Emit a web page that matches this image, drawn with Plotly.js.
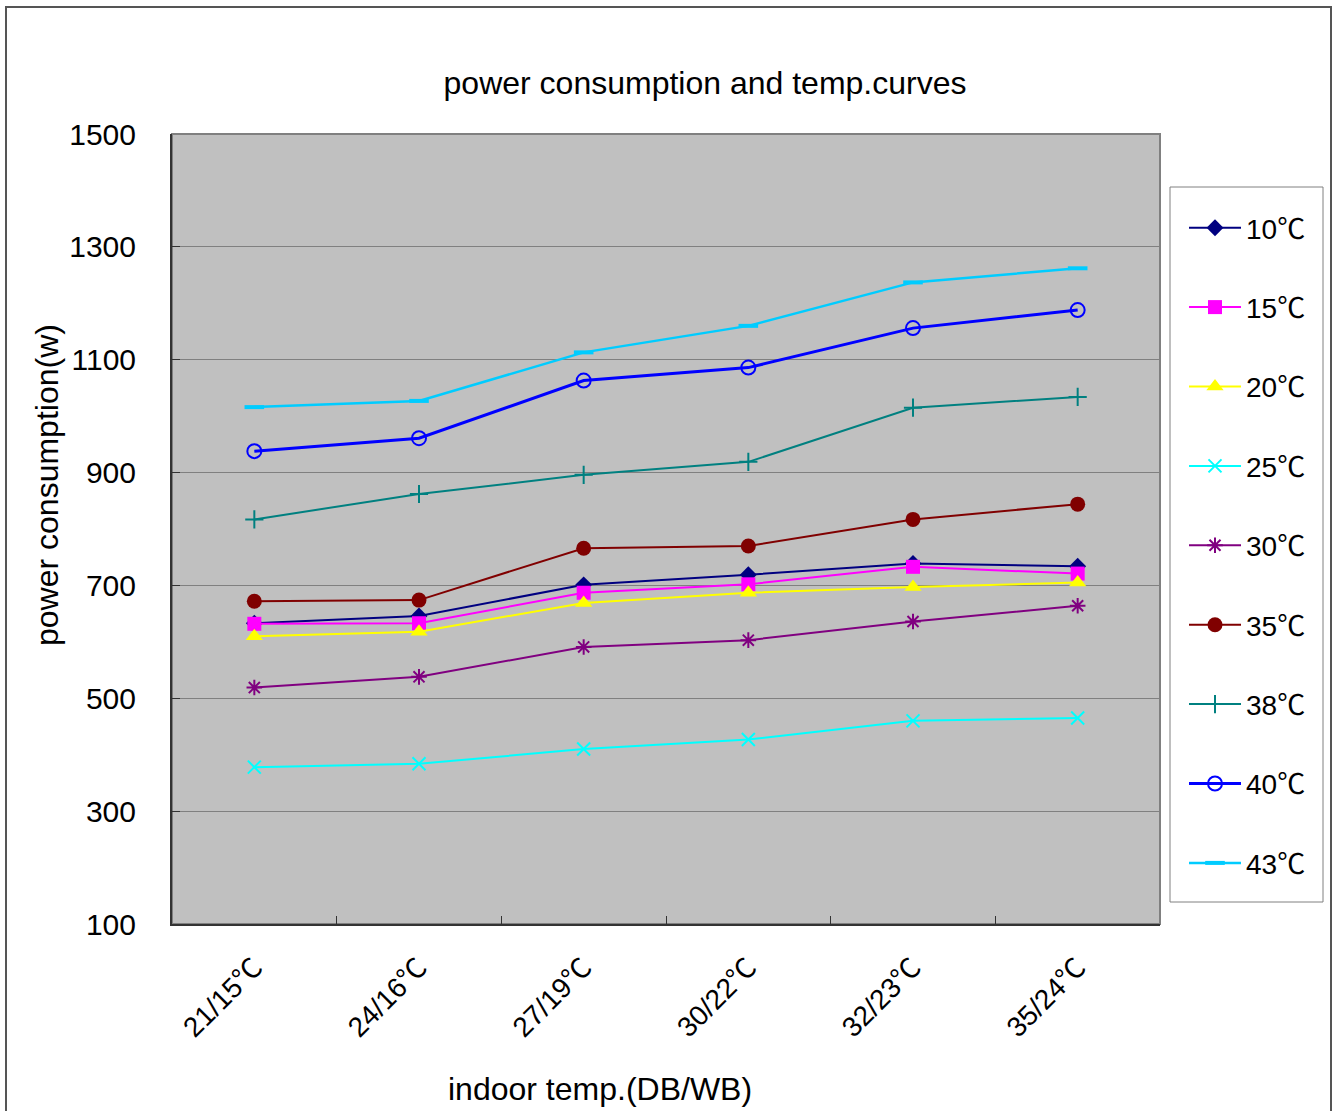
<!DOCTYPE html>
<html>
<head>
<meta charset="utf-8">
<script src="https://cdn.plot.ly/plotly-3.0.1.min.js"></script>
<style>html,body{margin:0;padding:0;background:#fff;}#chart{width:1335px;height:1111px;}</style>
</head>
<body>
<div id="chart"></div>
<script>
// Categories (indoor temp DB/WB)
const categories = ["21/15℃", "24/16℃", "27/19℃", "30/22℃", "32/23℃", "35/24℃"];
// Series names (outdoor temp)
const seriesNames = ["10℃", "15℃", "20℃", "25℃", "30℃", "35℃", "38℃", "40℃", "43℃"];
// Power consumption values (w)
const s10 = [633, 646, 701, 719, 739, 734];
const s15 = [632, 633, 687, 702, 733, 721];
const s20 = [610, 618, 669, 687, 697, 705];
const s25 = [378, 384, 410, 427, 460, 465];
const s30 = [519, 538, 591, 603, 636, 664];
const s35 = [672, 674, 766, 770, 817, 844];
const s38 = [817, 862, 896, 919, 1015, 1034];
const s40 = [938, 961, 1063, 1086, 1156, 1188];
const s43 = [1016, 1027, 1113, 1160, 1237, 1262];
const yTicks = [100, 300, 500, 700, 900, 1100, 1300, 1500];

const seriesValues = [s10, s15, s20, s25, s30, s35, s38, s40, s43];
const styles = [
  {color: "#000080", symbol: "diamond", size: 13, lw: 2},
  {color: "#FF00FF", symbol: "square", size: 14, lw: 2},
  {color: "#FFFF00", symbol: "triangle-up", size: 15, lw: 2},
  {color: "#00FFFF", symbol: "x-thin-open", size: 13, lw: 2, mlw: 2},
  {color: "#800080", symbol: "asterisk-open", size: 13, lw: 2, mlw: 2},
  {color: "#800000", symbol: "circle", size: 15, lw: 2},
  {color: "#008080", symbol: "cross-thin-open", size: 13, lw: 2, mlw: 2},
  {color: "#0000FF", symbol: "circle-open", size: 14, lw: 3, mlw: 2},
  {color: "#00CCFF", symbol: "line-ew-open", size: 14, lw: 2.5, mlw: 4}
];

const FONT = "Liberation Sans, Arial, Noto Sans CJK SC, sans-serif";

const traces = seriesValues.map((vals, i) => {
  const st = styles[i];
  return {
    type: "scatter",
    mode: "lines+markers",
    name: seriesNames[i],
    legendgroup: "g" + i,
    x: categories,
    y: vals,
    line: {color: st.color, width: st.lw},
    marker: {
      color: st.color,
      symbol: st.symbol,
      size: st.size,
      line: {color: st.color, width: st.mlw || 0}
    },
    cliponaxis: false
  };
});

// plot area: x 172..1160, y 134..924
const PW = 988, PH = 790, L = 172, T = 134;
const px = v => (v - L) / PW;
const py = v => (T + PH - v) / PH;

const layout = {
  width: 1335,
  height: 1111,
  margin: {l: 172, r: 175, t: 134, b: 187, pad: 0},
  paper_bgcolor: "#ffffff",
  plot_bgcolor: "#c0c0c0",
  font: {family: FONT, color: "#000000", size: 30},
  title: {
    text: "power consumption and temp.curves",
    font: {family: FONT, size: 32, color: "#000"},
    x: 705 / 1335, xref: "container", xanchor: "center",
    y: 1 - 83 / 1111, yref: "container", yanchor: "middle"
  },
  showlegend: true,
  legend: {
    x: px(1184), xanchor: "left",
    y: py(203), yanchor: "top",
    bgcolor: "rgba(0,0,0,0)",
    borderwidth: 0,
    font: {family: FONT, size: 28, color: "#000"},
    itemwidth: 52,
    tracegroupgap: 40,
    traceorder: "grouped"
  },
  xaxis: {
    type: "category",
    range: [-0.5, 5.5],
    showgrid: false,
    zeroline: false,
    showline: true,
    linecolor: "#333333",
    linewidth: 2,
    ticks: "inside",
    tickson: "boundaries",
    ticklen: 8,
    tickcolor: "#333333",
    tickwidth: 1,
    tickangle: -45,
    tickfont: {family: FONT, size: 28, color: "#000"},
    ticklabelstandoff: 14,
    fixedrange: true
  },
  yaxis: {
    range: [100, 1500],
    tickvals: yTicks,
    ticktext: yTicks.map(String),
    showgrid: true,
    gridcolor: "#808080",
    gridwidth: 1,
    zeroline: false,
    showline: true,
    linecolor: "#333333",
    linewidth: 2,
    ticks: "inside",
    ticklen: 8,
    tickcolor: "#333333",
    tickfont: {family: FONT, size: 30, color: "#000"},
    ticklabelstandoff: 28,
    fixedrange: true
  },
  annotations: [
    {
      text: "power consumption(w)",
      xref: "paper", yref: "paper",
      x: px(47), y: py(485),
      xanchor: "center", yanchor: "middle",
      textangle: -90, showarrow: false,
      font: {family: FONT, size: 32, color: "#000"}
    },
    {
      text: "indoor temp.(DB/WB)",
      xref: "paper", yref: "paper",
      x: px(600), y: py(1089),
      xanchor: "center", yanchor: "middle",
      showarrow: false,
      font: {family: FONT, size: 32, color: "#000"}
    }
  ],
  shapes: [
    // outer chart border
    {type: "rect", xref: "paper", yref: "paper",
     x0: px(6), x1: px(1331), y0: py(1118), y1: py(7),
     line: {color: "#555555", width: 2}, fillcolor: "rgba(0,0,0,0)", layer: "below"},
    // plot area border (top/right lighter)
    {type: "rect", xref: "paper", yref: "paper",
     x0: 0, x1: 1, y0: 0, y1: 1,
     line: {color: "#808080", width: 2}, fillcolor: "rgba(0,0,0,0)", layer: "below"},
    // legend box
    {type: "rect", xref: "paper", yref: "paper",
     x0: px(1170), x1: px(1323), y0: py(902), y1: py(187),
     line: {color: "#808080", width: 1}, fillcolor: "#ffffff", layer: "below"}
  ]
};

Plotly.newPlot("chart", traces, layout, {displayModeBar: false, staticPlot: true});
</script>
</body>
</html>
